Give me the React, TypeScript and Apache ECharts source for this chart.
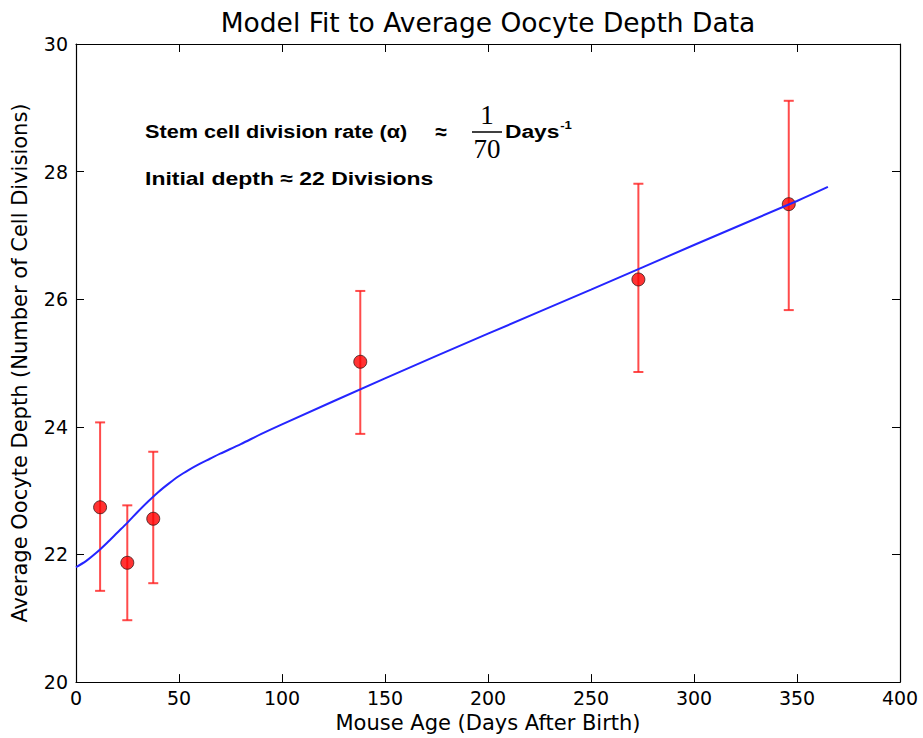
import React, { useEffect, useRef } from "react";
import * as echarts from "echarts";

// Measured data points (mouse age in days, mean depth, error bar bounds)
const ageDays = [11.7, 24.9, 37.5, 138, 273, 346];
const meanDepth = [22.74, 21.87, 22.56, 25.02, 26.31, 27.49];
const errLow = [21.43, 20.97, 21.55, 23.89, 24.86, 25.83];
const errHigh = [24.07, 22.77, 23.61, 26.13, 27.81, 29.11];

// Model fit curve
const fitAge = [0, 5, 10, 15, 20, 25, 30, 35, 40, 45, 50, 55, 60, 65, 70, 80, 90, 100, 150, 200, 250, 300, 350, 365];
const fitDepth = [21.8, 21.9, 22.03, 22.18, 22.34, 22.5, 22.67, 22.83, 22.98, 23.11, 23.23, 23.33, 23.42, 23.5, 23.58, 23.73, 23.89, 24.04, 24.76, 25.46, 26.15, 26.85, 27.54, 27.76];

const xTicks = { min: 0, max: 400, interval: 50 };
const yTicks = { min: 20, max: 30, interval: 2 };

const titleText = "Model Fit to Average Oocyte Depth Data";
const xName = "Mouse Age (Days After Birth)";
const yName = "Average Oocyte Depth (Number of Cell Divisions)";

export default function App() {
  const ref = useRef<HTMLDivElement>(null);
  useEffect(() => {
    if (!ref.current) return;
    const chart = echarts.init(ref.current, null, { renderer: "svg" });
    const axisFont = "DejaVu Sans";
    const lineStyle = { color: "#000", width: 1.2 };
    const tickCommon = { show: true, inside: true, length: 8, lineStyle: { color: "#000", width: 1 } };
    const errData = ageDays.map((x, i) => [x, errLow[i], errHigh[i]]);
    const annFont = { fontFamily: "Liberation Sans", fontWeight: "bold", fontSize: 19, fill: "#000", verticalAlign: "middle" };
    const option: any = {
      animation: false,
      backgroundColor: "#fff",
      title: {
        text: titleText,
        left: 483,
        top: 4,
        textAlign: "center",
        textStyle: { fontFamily: axisFont, fontSize: 26.5, fontWeight: "normal", color: "#000" },
      },
      grid: { left: 76, right: 23, top: 44, bottom: 54, containLabel: false },
      xAxis: [
        {
          type: "value",
          position: "bottom",
          ...xTicks,
          name: xName,
          nameLocation: "middle",
          nameGap: 29,
          nameTextStyle: { fontFamily: axisFont, fontSize: 21, color: "#000" },
          axisLine: { show: true, onZero: false, lineStyle },
          axisTick: tickCommon,
          axisLabel: { fontFamily: axisFont, fontSize: 19, color: "#000", margin: 6 },
          splitLine: { show: false },
        },
        {
          type: "value",
          position: "top",
          ...xTicks,
          axisLine: { show: true, onZero: false, lineStyle },
          axisTick: tickCommon,
          axisLabel: { show: false },
          splitLine: { show: false },
        },
      ],
      yAxis: [
        {
          type: "value",
          position: "left",
          ...yTicks,
          name: yName,
          nameLocation: "middle",
          nameGap: 46,
          nameTextStyle: { fontFamily: axisFont, fontSize: 21, color: "#000" },
          axisLine: { show: true, onZero: false, lineStyle },
          axisTick: tickCommon,
          axisLabel: { fontFamily: axisFont, fontSize: 19, color: "#000", margin: 8 },
          splitLine: { show: false },
        },
        {
          type: "value",
          position: "right",
          ...yTicks,
          axisLine: { show: true, onZero: false, lineStyle },
          axisTick: tickCommon,
          axisLabel: { show: false },
          splitLine: { show: false },
        },
      ],
      series: [
        {
          type: "custom",
          name: "error",
          xAxisIndex: 0,
          yAxisIndex: 0,
          z: 1,
          data: errData,
          renderItem: (params: any, api: any) => {
            const x = api.value(0);
            const lo = api.coord([x, api.value(1)]);
            const hi = api.coord([x, api.value(2)]);
            const cap = 5;
            const style = { stroke: "rgba(255,30,30,0.8)", lineWidth: 2 };
            return {
              type: "group",
              children: [
                { type: "line", shape: { x1: lo[0], y1: lo[1], x2: hi[0], y2: hi[1] }, style },
                { type: "line", shape: { x1: lo[0] - cap, y1: lo[1], x2: lo[0] + cap, y2: lo[1] }, style },
                { type: "line", shape: { x1: hi[0] - cap, y1: hi[1], x2: hi[0] + cap, y2: hi[1] }, style },
              ],
            };
          },
        },
        {
          type: "scatter",
          name: "data",
          z: 2,
          symbol: "circle",
          symbolSize: 13,
          itemStyle: { color: "#ff0000", borderColor: "#3a1a1a", borderWidth: 1 },
          data: ageDays.map((x, i) => [x, meanDepth[i]]),
        },
        {
          type: "line",
          name: "fit",
          z: 3,
          showSymbol: false,
          smooth: 0.3,
          lineStyle: { color: "#2525ff", width: 2 },
          data: fitAge.map((x, i) => [x, fitDepth[i]]),
        },
      ],
      graphic: [
        {
          type: "group",
          x: 145,
          y: 131,
          scaleX: 1.14,
          children: [
            { type: "text", x: 0, y: 0, style: { ...annFont, text: "Stem cell division rate (\u03b1)" } },
          ],
        },
        {
          type: "group",
          x: 145,
          y: 178,
          scaleX: 1.21,
          children: [
            { type: "text", x: 0, y: 0, style: { ...annFont, text: "Initial depth \u2248 22 Divisions" } },
          ],
        },
        {
          type: "text",
          x: 441,
          y: 131,
          style: { ...annFont, text: "\u2248", fontSize: 21, align: "center" },
        },
        {
          type: "text",
          x: 487,
          y: 115,
          style: { text: "1", fontFamily: "Liberation Serif", fontSize: 27, fill: "#000", align: "center", verticalAlign: "middle" },
        },
        {
          type: "line",
          shape: { x1: 472, y1: 132, x2: 502, y2: 132 },
          style: { stroke: "#000", lineWidth: 1.5 },
        },
        {
          type: "text",
          x: 487,
          y: 149,
          style: { text: "70", fontFamily: "Liberation Serif", fontSize: 27, fill: "#000", align: "center", verticalAlign: "middle" },
        },
        {
          type: "group",
          x: 505,
          y: 131,
          scaleX: 1.2,
          children: [
            { type: "text", x: 0, y: 0, style: { ...annFont, text: "Days" } },
            { type: "text", x: 46, y: -6, style: { ...annFont, text: "-1", fontSize: 11 } },
          ],
        },
      ],
    };
    chart.setOption(option);
    return () => chart.dispose();
  }, []);
  return <div ref={ref} style={{ width: 923, height: 738, position: "absolute", left: 0, top: 0 }} />;
}
